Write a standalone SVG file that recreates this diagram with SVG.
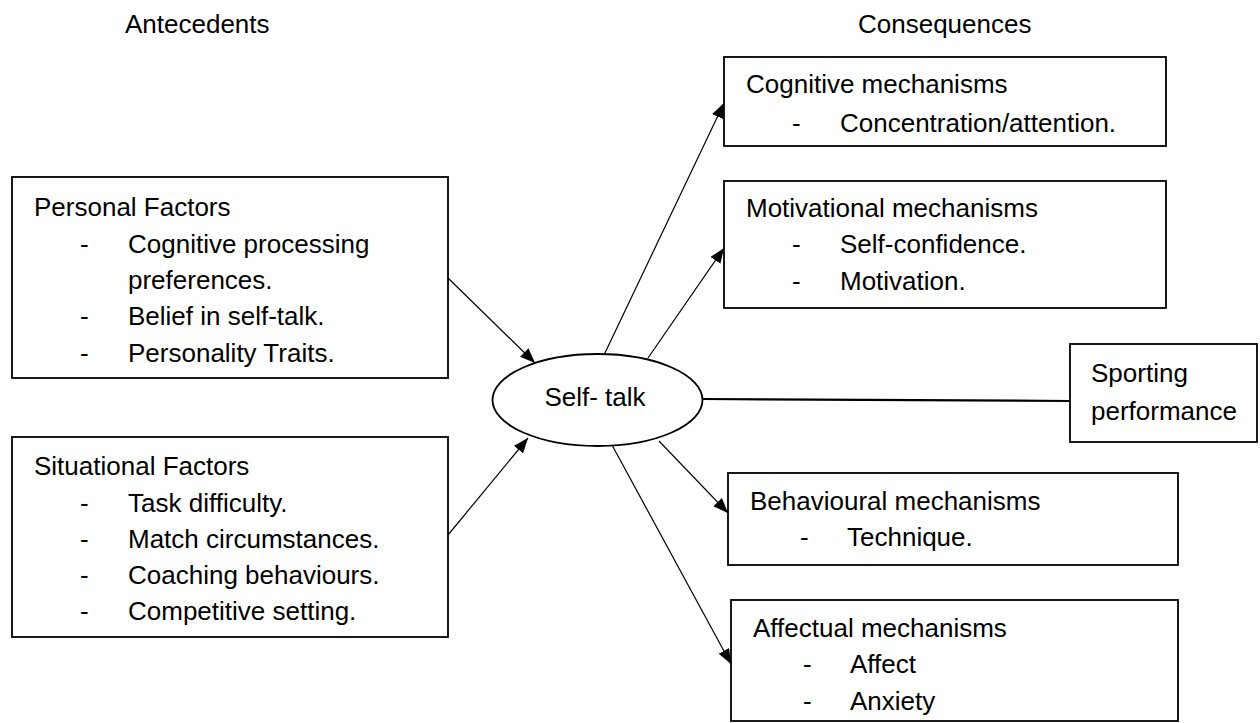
<svg xmlns="http://www.w3.org/2000/svg" width="1260" height="723" viewBox="0 0 1260 723">
<style>
text{font-family:"Liberation Sans",Arial,sans-serif;font-size:26px;fill:#000}
.box{fill:#fff;stroke:#000;stroke-width:1.8}
.arr{stroke:#000;stroke-width:1.2;fill:none;marker-end:url(#ah)}
</style>
<defs>
<marker id="ah" markerUnits="userSpaceOnUse" markerWidth="16" markerHeight="12" refX="15" refY="6" orient="auto">
<path d="M0,0 L15,6 L0,12 z" fill="#000"/>
</marker>
</defs>
<rect width="1260" height="723" fill="#fff"/>
<g id="titles">
<text x="125" y="33">Antecedents</text>
<text x="858" y="33">Consequences</text>
</g>
<g id="connectors">
<line class="arr" x1="448" y1="278" x2="535" y2="363"/>
<line class="arr" x1="448" y1="535" x2="528" y2="438"/>
<line class="arr" x1="604" y1="355" x2="724" y2="103"/>
<line class="arr" x1="648" y1="358" x2="724" y2="248"/>
<line class="arr" x1="659" y1="441" x2="728" y2="513"/>
<line class="arr" x1="612" y1="445" x2="731" y2="664"/>
<line x1="703" y1="399" x2="1070" y2="401" stroke="#000" stroke-width="2.2"/>
</g>
<g id="personal">
<rect class="box" x="12" y="177" width="436" height="201"/>
<text x="34" y="216">Personal Factors</text>
<text x="80" y="252.5">-</text><text x="128" y="252.5">Cognitive processing</text>
<text x="128" y="289">preferences.</text>
<text x="80" y="325">-</text><text x="128" y="325">Belief in self-talk.</text>
<text x="80" y="361.5">-</text><text x="128" y="361.5">Personality Traits.</text>
</g>
<g id="situational">
<rect class="box" x="12" y="437" width="436" height="200"/>
<text x="34" y="475">Situational Factors</text>
<text x="80" y="511.5">-</text><text x="128" y="511.5">Task difficulty.</text>
<text x="80" y="547.5">-</text><text x="128" y="547.5">Match circumstances.</text>
<text x="80" y="584">-</text><text x="128" y="584">Coaching behaviours.</text>
<text x="80" y="620">-</text><text x="128" y="620">Competitive setting.</text>
</g>
<g id="selftalk">
<ellipse cx="597.5" cy="400" rx="105" ry="46" fill="#fff" stroke="#000" stroke-width="1.8"/>
<text x="595" y="406" text-anchor="middle">Self- talk</text>
</g>
<g id="cognitive">
<rect class="box" x="724" y="57" width="442" height="89"/>
<text x="746" y="93">Cognitive mechanisms</text>
<text x="792" y="131.5">-</text><text x="840" y="131.5">Concentration/attention.</text>
</g>
<g id="motivational">
<rect class="box" x="724" y="181" width="442" height="127"/>
<text x="746" y="216.5">Motivational mechanisms</text>
<text x="792" y="253">-</text><text x="840" y="253">Self-confidence.</text>
<text x="792" y="290">-</text><text x="840" y="290">Motivation.</text>
</g>
<g id="sporting">
<rect class="box" x="1070" y="344" width="187" height="98"/>
<text x="1091" y="381.5">Sporting</text>
<text x="1091" y="420">performance</text>
</g>
<g id="behavioural">
<rect class="box" x="728" y="473" width="450" height="92"/>
<text x="750" y="510">Behavioural mechanisms</text>
<text x="800" y="546">-</text><text x="847" y="546">Technique.</text>
</g>
<g id="affectual">
<rect class="box" x="731" y="600" width="447" height="121"/>
<text x="753" y="637">Affectual mechanisms</text>
<text x="803" y="673">-</text><text x="850" y="673">Affect</text>
<text x="803" y="710">-</text><text x="850" y="710">Anxiety</text>
</g>
</svg>
